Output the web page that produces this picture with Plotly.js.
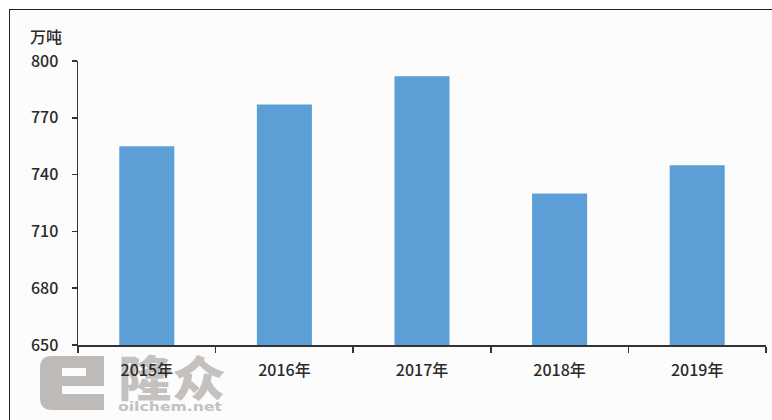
<!DOCTYPE html>
<html>
<head>
<meta charset="utf-8">
<script src="https://cdn.plot.ly/plotly-3.0.1.min.js"></script>
<style>
  html, body { margin: 0; padding: 0; background: #ffffff; }
  #wrap { position: relative; width: 772px; height: 420px; overflow: hidden; background: #ffffff; }
  #frame { position: absolute; left: 9px; top: 9px; width: 763px; height: 411px;
           border-top: 1.5px solid #222; border-left: 1.5px solid #222; background: #fcfcfc; box-sizing: border-box; }
  #wm { position: absolute; left: 0; top: 0; }
  #chart { position: absolute; left: 0; top: 0; width: 772px; height: 420px; }
</style>
</head>
<body>
<div id="wrap">
  <div id="frame"></div>
  <svg id="wm" width="772" height="420">
    <g fill="#bdbab8">
      <path d="M44 356 H104 V386 H62 V394 H104 V410 H52 Q40 410 40 398 V368 Q40 356 52 356 Z M62 368 V376 H86 V368 Z" fill-rule="evenodd"/>
    </g>
    <text x="118" y="396" font-family="Noto Sans CJK SC" font-weight="900" font-size="48" fill="#c4c1bf" textLength="108" lengthAdjust="spacingAndGlyphs">隆众</text>
    <text x="118" y="411" font-family="DejaVu Sans" font-weight="bold" font-size="13" fill="#c4c1bf" textLength="104" lengthAdjust="spacingAndGlyphs">oilchem.net</text>
  </svg>
  <div id="chart"></div>
</div>
<script>
const categories = ["2015年", "2016年", "2017年", "2018年", "2019年"];
const values = [755, 777, 792, 730, 745];
const yTicks = [650, 680, 710, 740, 770, 800];
const unitLabel = "万吨";

const fontFam = "Noto Sans CJK SC Medium, Noto Sans CJK SC, Noto Sans, sans-serif";
const textColor = "#2a2a2a";

const trace = {
  type: "bar",
  x: categories,
  y: values,
  marker: { color: "#5b9fd6" },
  hoverinfo: "x+y"
};

const layout = {
  width: 772,
  height: 420,
  margin: { l: 78, r: 6, t: 61, b: 75 },
  paper_bgcolor: "rgba(0,0,0,0)",
  plot_bgcolor: "rgba(0,0,0,0)",
  bargap: 0.6,
  showlegend: false,
  font: { family: fontFam, size: 16, color: textColor, weight: 500 },
  xaxis: {
    type: "category",
    showgrid: false,
    zeroline: false,
    showline: true,
    linecolor: "#333333",
    linewidth: 1.5,
    ticks: "outside",
    tickson: "boundaries",
    ticklen: 6,
    tickcolor: "#333333",
    tickwidth: 1.5,
    ticklabelstandoff: 10,
    tickfont: { family: fontFam, size: 16, color: textColor, weight: 500 },
    fixedrange: true
  },
  yaxis: {
    range: [650, 800],
    tickvals: yTicks,
    ticktext: yTicks.map(String),
    showgrid: false,
    zeroline: false,
    showline: true,
    linecolor: "#333333",
    linewidth: 1.5,
    ticks: "outside",
    ticklen: 5,
    tickcolor: "#333333",
    tickwidth: 1.5,
    ticklabelstandoff: 10,
    tickfont: { family: fontFam, size: 16, color: textColor, weight: 500 },
    fixedrange: true
  },
  annotations: [{
    text: unitLabel,
    xref: "paper", yref: "paper",
    x: -0.047, y: 1.038,
    xanchor: "center", yanchor: "bottom",
    showarrow: false,
    font: { family: fontFam, size: 16, color: textColor, weight: 500 }
  }]
};

Plotly.newPlot("chart", [trace], layout, { displayModeBar: false, staticPlot: true });
</script>
</body>
</html>
